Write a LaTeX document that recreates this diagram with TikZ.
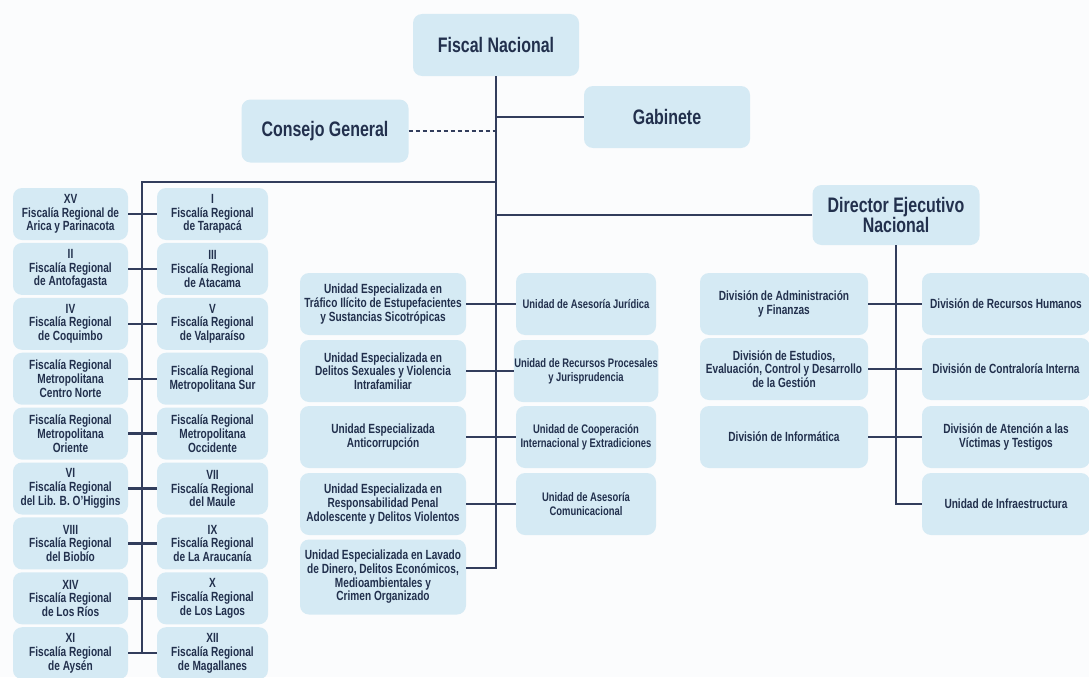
\documentclass[tikz,border=0pt]{standalone}
\usepackage{fontspec}
\setmainfont{Liberation Sans}[FakeStretch=0.76]
\usetikzlibrary{positioning}
\definecolor{ink}{HTML}{22304D}
\definecolor{wire}{HTML}{323D5C}
\definecolor{boxfill}{HTML}{D5EAF4}
\definecolor{bg}{HTML}{FBFCFD}
\tikzset{
  % Kästen
  unit/.style={rounded corners=9pt, fill=boxfill, text=ink, align=center, inner sep=2pt,
    font=\bfseries\fontsize{13.3}{13.7}\selectfont},
  head/.style={unit, minimum width=166pt, minimum height=62pt,
    font=\bfseries\fontsize{21}{19}\selectfont},
  regl/.style={unit, minimum width=115pt, minimum height=52pt},
  regr/.style={unit, minimum width=111pt, minimum height=52pt},
  espl/.style={unit, minimum width=166pt, minimum height=62pt},
  espr/.style={unit, minimum width=140pt, minimum height=62pt, inner xsep=0.5pt,
    font=\bfseries\fontsize{12.4}{13.7}\selectfont},
  divi/.style={unit, minimum width=168pt, minimum height=62pt},
  % Linien
  conn/.style={wire, line width=2.4pt},
  weak/.style={wire, line width=1.4pt, dash pattern=on 4pt off 3pt},
}
\begin{document}
\begin{tikzpicture}[x=1pt, y=-1pt]
  \fill[bg] (0,0) rectangle (1089,677);
  \useasboundingbox (0,0) rectangle (1089,677);
  % Spitze
  \node[head] (fn) at (496,45) {Fiscal Nacional};
  \node[head] (gab) at (667,117) {Gabinete};
  \node[head, minimum width=167pt, minimum height=63pt] (cg) at (325,131) {Consejo General};
  \node[head, minimum width=167pt, minimum height=60pt] (dir) at (896,215) {Director Ejecutivo\\Nacional};
  % Fiscalías Regionales
  \foreach \i/\a/\b [evaluate=\i as \yy using 214+54.9*(\i-1)] in {
    1/{XV\\Fiscalía Regional de\\Arica y Parinacota}/{I\\Fiscalía Regional\\de Tarapacá},
    2/{II\\Fiscalía Regional\\de Antofagasta}/{III\\Fiscalía Regional\\de Atacama},
    3/{IV\\Fiscalía Regional\\de Coquimbo}/{V\\Fiscalía Regional\\de Valparaíso},
    4/{Fiscalía Regional\\Metropolitana\\Centro Norte}/{Fiscalía Regional\\Metropolitana Sur},
    5/{Fiscalía Regional\\Metropolitana\\Oriente}/{Fiscalía Regional\\Metropolitana\\Occidente},
    6/{VI\\Fiscalía Regional\\del Lib. B. O'Higgins}/{VII\\Fiscalía Regional\\del Maule},
    7/{VIII\\Fiscalía Regional\\del Biobío}/{IX\\Fiscalía Regional\\de La Araucanía},
    8/{XIV\\Fiscalía Regional\\de Los Ríos}/{X\\Fiscalía Regional\\de Los Lagos},
    9/{XI\\Fiscalía Regional\\de Aysén}/{XII\\Fiscalía Regional\\de Magallanes}} {
    \node[regl] (rl\i) at (70.5,\yy) {\a};
    \node[regr] (rr\i) at (212.5,\yy) {\b};
    \draw[conn] (rl\i.east) -- (rr\i.west);
  }
  % Unidades
  \node[espl] (u1) at (383,304) {Unidad Especializada en\\Tráfico Ilícito de Estupefacientes\\y Sustancias Sicotrópicas};
  \node[espl] (u2) at (383,371) {Unidad Especializada en\\Delitos Sexuales y Violencia\\Intrafamiliar};
  \node[espl] (u3) at (383,437) {Unidad Especializada\\Anticorrupción};
  \node[espl] (u4) at (383,504) {Unidad Especializada en\\Responsabilidad Penal\\Adolescente y Delitos Violentos};
  \node[espl, minimum height=75pt] (u5) at (383,577) {Unidad Especializada en Lavado\\de Dinero, Delitos Económicos,\\Medioambientales y\\Crimen Organizado};
  \node[espr] (a1) at (586,304) {Unidad de Asesoría Jurídica};
  \node[espr] (a2) at (586,371) {Unidad de Recursos Procesales\\y Jurisprudencia};
  \node[espr] (a3) at (586,437) {Unidad de Cooperación\\Internacional y Extradiciones};
  \node[espr] (a4) at (586,504) {Unidad de Asesoría\\Comunicacional};
  % Divisiones
  \node[divi] (d1) at (784,304) {División de Administración\\y Finanzas};
  \node[divi] (d2) at (784,369) {División de Estudios,\\Evaluación, Control y Desarrollo\\de la Gestión};
  \node[divi] (d3) at (784,437) {División de Informática};
  \node[divi] (e1) at (1006,304) {División de Recursos Humanos};
  \node[divi] (e2) at (1006,369) {División de Contraloría Interna};
  \node[divi] (e3) at (1006,437) {División de Atención a las\\Víctimas y Testigos};
  \node[divi] (e4) at (1006,504) {Unidad de Infraestructura};
  % Verbindungen
  \coordinate (rtop) at (142,182);
  \path ([yshift=9pt]u5.east) coordinate (ulink);
  \draw[conn] (fn.south) -- (fn.south |- ulink) -- (ulink);
  \draw[conn] (gab.west -| fn.south) -- (gab.west);
  \draw[weak] (cg.east) -- (cg.east -| fn.south);
  \draw[conn] (rtop -| fn.south) -- (rtop) -- (rtop |- rl9.east);
  \draw[conn] (dir.west -| fn.south) -- (dir.west);
  \foreach \i in {1,...,4}
    \draw[conn] (u\i.east) -- (a\i.west);
  \draw[conn] (dir.south) -- (dir.south |- e4.west) -- (e4.west);
  \foreach \i in {1,2,3}
    \draw[conn] (d\i.east) -- (e\i.west);
\end{tikzpicture}
\end{document}
